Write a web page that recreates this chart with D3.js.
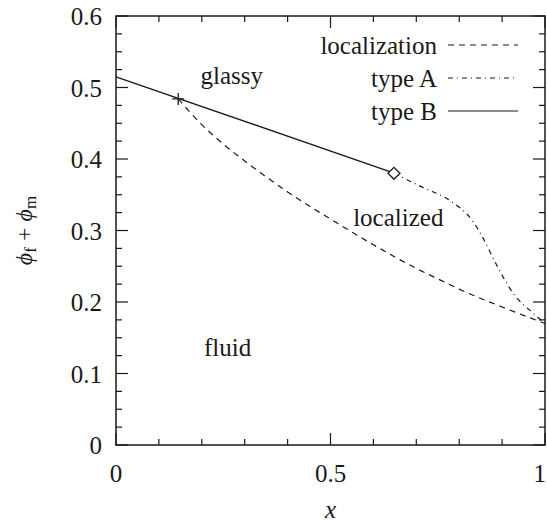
<!DOCTYPE html>
<html>
<head>
<meta charset="utf-8">
<script src="https://cdn.jsdelivr.net/npm/d3@7"></script>
<style>
  body { margin: 0; background: #fff; }
  svg text { font-family: "Liberation Serif", "DejaVu Serif", "Times New Roman", Times, "Nimbus Roman", "Noto Serif", FreeSerif, Georgia, serif; }
</style>
</head>
<body>
<div id="chart"></div>
<script>
// curve data
const typeBX = [0, 0.65];
const typeBY = [0.515, 0.38];

const locX = [0.145, 0.2, 0.25, 0.316, 0.4, 0.522, 0.6, 0.7, 0.755, 0.8, 0.9, 1];
const locY = [0.484, 0.448, 0.421, 0.390, 0.354, 0.308, 0.280, 0.247, 0.231, 0.218, 0.193, 0.170];

const typeAX = [0.648, 0.716, 0.778, 0.833, 0.856, 0.887, 0.926, 0.973, 1];
const typeAY = [0.380, 0.360, 0.342, 0.312, 0.289, 0.252, 0.212, 0.184, 0.170];

const crossPt = [0.145, 0.484];
const diamondPt = [0.648, 0.380];

const xTicks = [0, 0.5, 1];
const xTickLabels = ["0", "0.5", "1"];
const yTicks = [0, 0.1, 0.2, 0.3, 0.4, 0.5, 0.6];
const yTickLabels = ["0", "0.1", "0.2", "0.3", "0.4", "0.5", "0.6"];

const legendNames = ["localization", "type A", "type B"];
const legendDash = ["6,5", "5,4,1,4", null];

const regionNames = ["glassy", "localized", "fluid"];
const regionPos = [[0.27, 0.505], [0.658, 0.306], [0.26, 0.125]];

const W = 547, H = 522;
const margin = {left: 116, right: 2, top: 16, bottom: 77};
const ink = "#1a1a1a";

const svg = d3.select("#chart").append("svg")
    .attr("width", W)
    .attr("height", H)
    .attr("fill", ink);

const x = d3.scaleLinear().domain([0, 1]).range([margin.left, W - margin.right]);
const y = d3.scaleLinear().domain([0, 0.6]).range([H - margin.bottom, margin.top]);

// ticks pointing inward on all four sides
const xMinor = d3.range(0, 1.0001, 0.1);
const yMinor = d3.range(0, 0.6001, 0.025);
const isMajor = (v, list) => list.some(t => Math.abs(t - v) < 1e-6);

const tickG = svg.append("g").attr("stroke", ink).attr("stroke-width", 1.2);
xMinor.forEach(v => {
  const len = isMajor(v, xTicks) ? 12 : 6;
  tickG.append("line").attr("x1", x(v)).attr("x2", x(v)).attr("y1", y(0)).attr("y2", y(0) - len);
  tickG.append("line").attr("x1", x(v)).attr("x2", x(v)).attr("y1", y(0.6)).attr("y2", y(0.6) + len);
});
yMinor.forEach(v => {
  const len = isMajor(v, yTicks) ? 12 : 6;
  tickG.append("line").attr("y1", y(v)).attr("y2", y(v)).attr("x1", x(0)).attr("x2", x(0) + len);
  tickG.append("line").attr("y1", y(v)).attr("y2", y(v)).attr("x1", x(1)).attr("x2", x(1) - len);
});

svg.append("rect")
    .attr("x", x(0)).attr("y", y(0.6))
    .attr("width", x(1) - x(0)).attr("height", y(0) - y(0.6))
    .attr("fill", "none").attr("stroke", ink).attr("stroke-width", 1.5);

// tick labels (the last one is pushed inside the window edge)
svg.selectAll(".xlab").data(xTicks).join("text")
    .attr("class", "xlab")
    .attr("x", d => d === 1 ? W - 1 : x(d))
    .attr("y", y(0) + 37)
    .attr("text-anchor", d => d === 1 ? "end" : "middle")
    .style("font-size", "25px")
    .text((d, i) => xTickLabels[i]);

svg.selectAll(".ylab").data(yTicks).join("text")
    .attr("class", "ylab")
    .attr("x", x(0) - 14)
    .attr("y", d => y(d) + 9)
    .attr("text-anchor", "end")
    .style("font-size", "25px")
    .text((d, i) => yTickLabels[i]);

// axis titles
svg.append("text")
    .attr("x", (x(0) + x(1)) / 2)
    .attr("y", 518)
    .attr("text-anchor", "middle")
    .style("font-size", "25px")
    .style("font-style", "italic")
    .text("x");

const yt = svg.append("text")
    .attr("transform", `translate(32, ${(y(0) + y(0.6)) / 2}) rotate(-90)`)
    .attr("text-anchor", "middle")
    .style("font-size", "24px");
yt.append("tspan").style("font-style", "italic").text("ϕ");
yt.append("tspan").attr("dy", 4).style("font-size", "17px").text("f");
yt.append("tspan").attr("dy", -4).text(" + ");
yt.append("tspan").style("font-style", "italic").text("ϕ");
yt.append("tspan").attr("dy", 4).style("font-size", "17px").text("m");

// curves
const line = d3.line().x(d => x(d[0])).y(d => y(d[1]));
const smooth = d3.line().x(d => x(d[0])).y(d => y(d[1])).curve(d3.curveMonotoneX);

svg.append("path")
    .datum(locX.map((v, i) => [v, locY[i]]))
    .attr("d", smooth)
    .attr("fill", "none").attr("stroke", ink).attr("stroke-width", 1.2)
    .attr("stroke-dasharray", legendDash[0]);

svg.append("path")
    .datum(typeAX.map((v, i) => [v, typeAY[i]]))
    .attr("d", smooth)
    .attr("fill", "none").attr("stroke", ink).attr("stroke-width", 1.2)
    .attr("stroke-dasharray", legendDash[1]);

svg.append("path")
    .datum(typeBX.map((v, i) => [v, typeBY[i]]))
    .attr("d", line)
    .attr("fill", "none").attr("stroke", ink).attr("stroke-width", 1.3);

// markers
const cx = x(crossPt[0]), cy = y(crossPt[1]);
svg.append("path")
    .attr("d", `M${cx - 6},${cy}H${cx + 6}M${cx},${cy - 6}V${cy + 6}`)
    .attr("stroke", ink).attr("stroke-width", 1.3);

const dx = x(diamondPt[0]), dy = y(diamondPt[1]);
svg.append("path")
    .attr("d", `M${dx - 6},${dy}L${dx},${dy - 6}L${dx + 6},${dy}L${dx},${dy + 6}Z`)
    .attr("fill", "#fff").attr("stroke", ink).attr("stroke-width", 1.3);

// region labels
svg.selectAll(".region").data(regionNames).join("text")
    .attr("class", "region")
    .attr("x", (d, i) => x(regionPos[i][0]))
    .attr("y", (d, i) => y(regionPos[i][1]))
    .attr("text-anchor", "middle")
    .style("font-size", "25px")
    .text(d => d);

// legend
const leg = svg.append("g");
legendNames.forEach((name, i) => {
  const ly = 45 + i * 33;
  leg.append("text")
      .attr("x", 437).attr("y", ly + 9)
      .attr("text-anchor", "end")
      .style("font-size", "25px")
      .text(name);
  leg.append("line")
      .attr("x1", 448).attr("x2", 518).attr("y1", ly).attr("y2", ly)
      .attr("stroke", ink).attr("stroke-width", 1.2)
      .attr("stroke-dasharray", legendDash[i]);
});
</script>
</body>
</html>
